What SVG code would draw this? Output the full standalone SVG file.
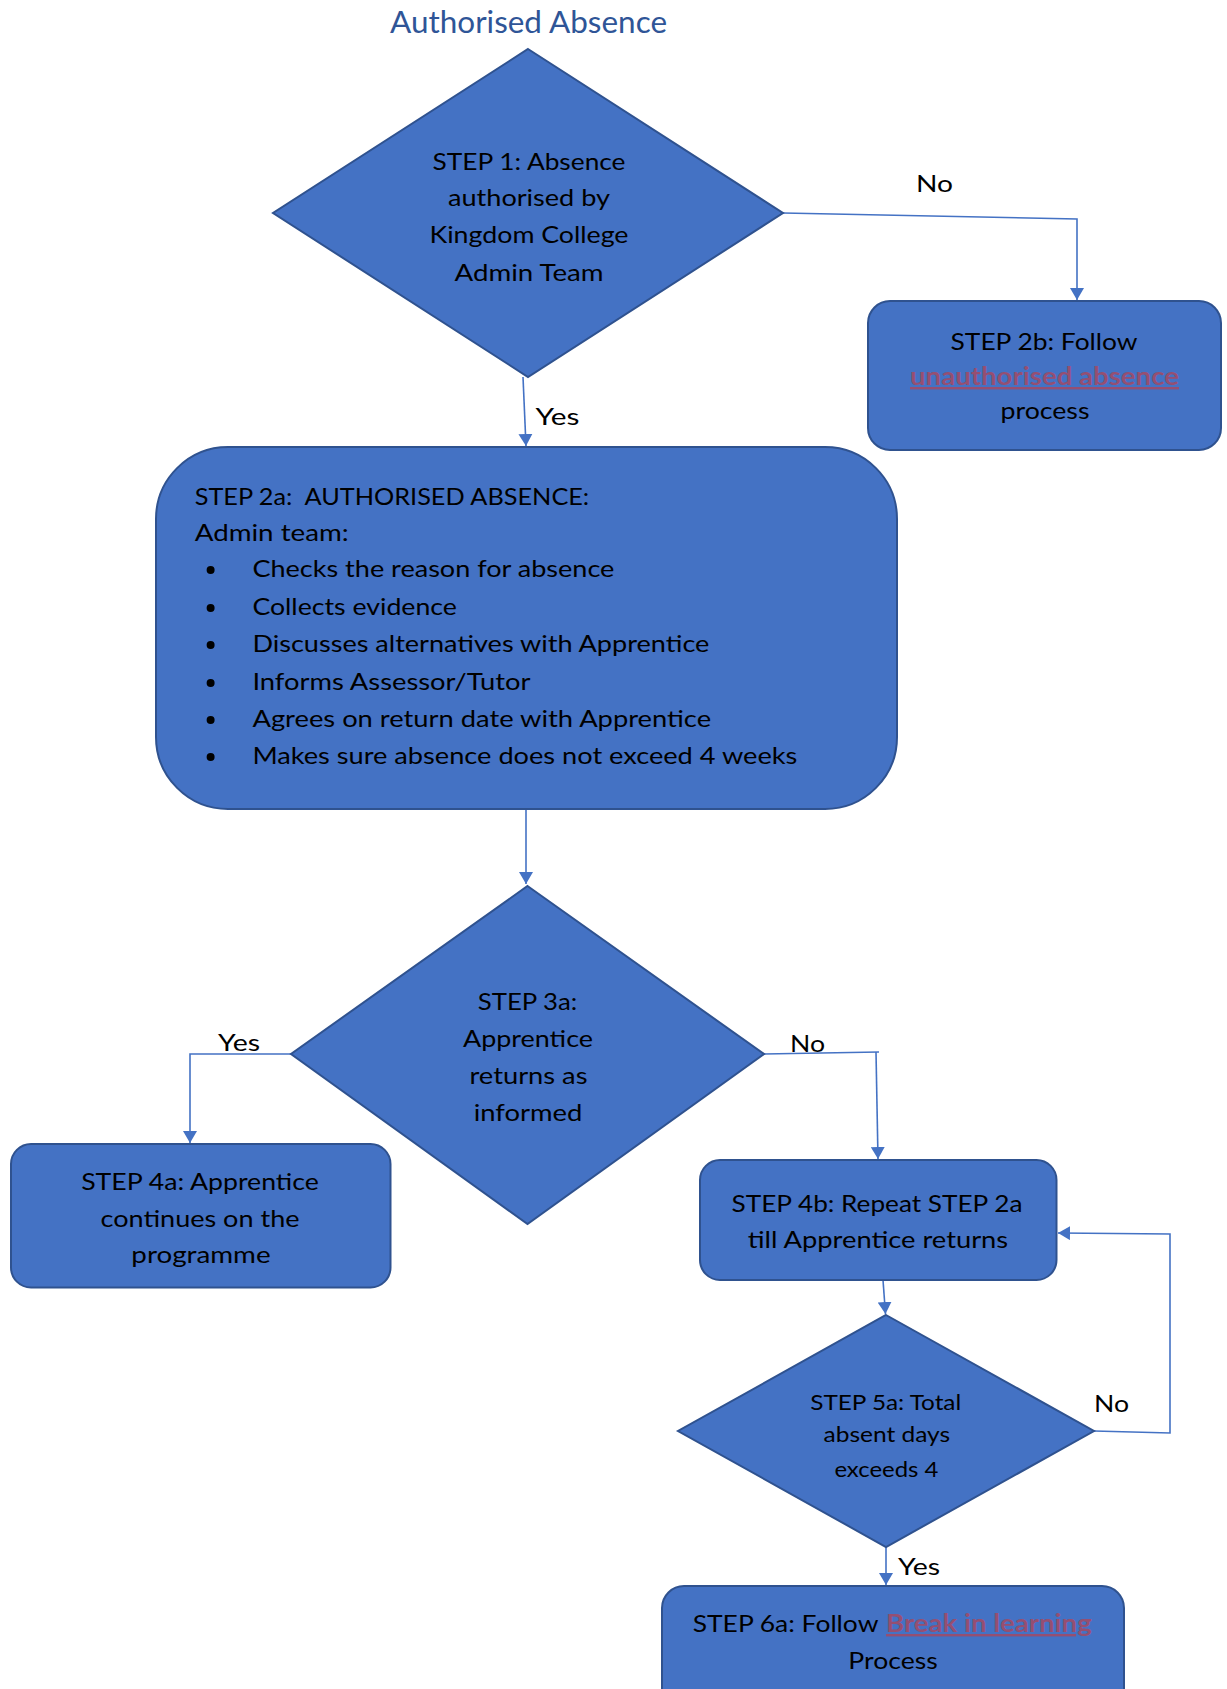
<svg xmlns="http://www.w3.org/2000/svg" width="1227" height="1689" viewBox="0 0 1227 1689">
<defs>
<marker id="arr" markerUnits="userSpaceOnUse" markerWidth="16" markerHeight="14" refX="12" refY="7" orient="auto">
<path d="M0,0 L12,7 L0,14 Z" fill="#4472C4"/>
</marker>
<style>
.shape{fill:#4472C4;stroke:#2F528F;stroke-width:2}
.conn{fill:none;stroke:#4472C4;stroke-width:1.6}
text{font-family:Lato,"Open Sans","Liberation Sans",sans-serif;fill:#000}
.t{font-size:24px;text-anchor:middle}
.l{font-size:24px}
.s{font-size:21px;text-anchor:middle}
.lab{font-size:24px;text-anchor:middle}
.link{fill:#954F72;font-weight:bold;text-decoration:underline}
.title{font-size:30px;fill:#2F5597;text-anchor:middle}
</style>
</defs>
<rect width="1227" height="1689" fill="#fff"/>
<text class="title" x="528.5" y="33" textLength="277" lengthAdjust="spacingAndGlyphs">Authorised Absence</text>

<g id="connectors">
<path class="conn" d="M783,213 L1077,219 L1077,300" marker-end="url(#arr)"/>
<path class="conn" d="M523,377 L526,446" marker-end="url(#arr)"/>
<path class="conn" d="M526,809 L526,884" marker-end="url(#arr)"/>
<path class="conn" d="M291,1054 L190,1054 L190,1143" marker-end="url(#arr)"/>
<path class="conn" d="M764,1054 L879,1052"/>
<path class="conn" d="M876,1052 L878,1159" marker-end="url(#arr)"/>
<path class="conn" d="M883,1280 L885.5,1314" marker-end="url(#arr)"/>
<path class="conn" d="M1094,1431 L1170,1433 L1170,1234 L1058,1233" marker-end="url(#arr)"/>
<path class="conn" d="M886,1547 L886,1585" marker-end="url(#arr)"/>
<text class="lab" x="934.5" y="192" textLength="37" lengthAdjust="spacingAndGlyphs">No</text>
<text class="lab" x="557.5" y="425" textLength="44" lengthAdjust="spacingAndGlyphs">Yes</text>
<text class="lab" x="239" y="1051" textLength="42" lengthAdjust="spacingAndGlyphs">Yes</text>
<text class="lab" x="807.5" y="1052" textLength="35" lengthAdjust="spacingAndGlyphs">No</text>
<text class="lab" x="1111.5" y="1412" textLength="35" lengthAdjust="spacingAndGlyphs">No</text>
<text class="lab" x="919" y="1575" textLength="42" lengthAdjust="spacingAndGlyphs">Yes</text>
</g>

<g id="step1">
<polygon class="shape" points="528,49 783,213 528,377 273,213"/>
<text class="t" x="529" y="170" textLength="193" lengthAdjust="spacingAndGlyphs">STEP 1: Absence</text>
<text class="t" x="529" y="206" textLength="162" lengthAdjust="spacingAndGlyphs">authorised by</text>
<text class="t" x="529" y="243" textLength="199" lengthAdjust="spacingAndGlyphs">Kingdom College</text>
<text class="t" x="529" y="281" textLength="149" lengthAdjust="spacingAndGlyphs">Admin Team</text>
</g>

<g id="step2b">
<rect class="shape" x="868" y="301" width="353" height="149" rx="22"/>
<text class="t" x="1044" y="350" textLength="187" lengthAdjust="spacingAndGlyphs">STEP 2b: Follow</text>
<text class="t link" x="1044.5" y="385" textLength="269" lengthAdjust="spacingAndGlyphs">unauthorised absence</text>
<text class="t" x="1045" y="419" textLength="89" lengthAdjust="spacingAndGlyphs">process</text>
</g>

<g id="step2a">
<rect class="shape" x="156" y="447" width="741" height="362" rx="72"/>
<text class="l" x="194.7" y="505" textLength="394.5" lengthAdjust="spacingAndGlyphs" xml:space="preserve">STEP 2a:  AUTHORISED ABSENCE:</text>
<text class="l" x="194.7" y="541" textLength="154" lengthAdjust="spacingAndGlyphs">Admin team:</text>
<g fill="#000">
<circle cx="210.6" cy="570" r="4"/>
<circle cx="210.6" cy="608" r="4"/>
<circle cx="210.6" cy="645" r="4"/>
<circle cx="210.6" cy="683" r="4"/>
<circle cx="210.6" cy="720" r="4"/>
<circle cx="210.6" cy="757" r="4"/>
</g>
<text class="l" x="252.4" y="577.3" textLength="362" lengthAdjust="spacingAndGlyphs">Checks the reason for absence</text>
<text class="l" x="252.4" y="615" textLength="204.5" lengthAdjust="spacingAndGlyphs">Collects evidence</text>
<text class="l" x="252.4" y="652" textLength="457" lengthAdjust="spacingAndGlyphs">Discusses alternatives with Apprentice</text>
<text class="l" x="252.4" y="690" textLength="278" lengthAdjust="spacingAndGlyphs">Informs Assessor/Tutor</text>
<text class="l" x="252.4" y="727" textLength="458.7" lengthAdjust="spacingAndGlyphs">Agrees on return date with Apprentice</text>
<text class="l" x="252.4" y="764" textLength="545" lengthAdjust="spacingAndGlyphs">Makes sure absence does not exceed 4 weeks</text>
</g>

<g id="step3a">
<polygon class="shape" points="527.5,886 764,1054 527.5,1224 291,1054"/>
<text class="t" x="527.5" y="1010" textLength="99.5" lengthAdjust="spacingAndGlyphs">STEP 3a:</text>
<text class="t" x="528" y="1047" textLength="130" lengthAdjust="spacingAndGlyphs">Apprentice</text>
<text class="t" x="528.5" y="1084" textLength="118" lengthAdjust="spacingAndGlyphs">returns as</text>
<text class="t" x="528" y="1121" textLength="108.7" lengthAdjust="spacingAndGlyphs">informed</text>
</g>

<g id="step4a">
<rect class="shape" x="11" y="1144" width="379.5" height="143.5" rx="20"/>
<text class="t" x="200" y="1190" textLength="237.7" lengthAdjust="spacingAndGlyphs">STEP 4a: Apprentice</text>
<text class="t" x="200" y="1227" textLength="199" lengthAdjust="spacingAndGlyphs">continues on the</text>
<text class="t" x="201" y="1263" textLength="139.3" lengthAdjust="spacingAndGlyphs">programme</text>
</g>

<g id="step4b">
<rect class="shape" x="700" y="1160" width="356.5" height="120" rx="20"/>
<text class="t" x="877" y="1212" textLength="291" lengthAdjust="spacingAndGlyphs">STEP 4b: Repeat STEP 2a</text>
<text class="t" x="878" y="1248" textLength="260.4" lengthAdjust="spacingAndGlyphs">till Apprentice returns</text>
</g>

<g id="step5a">
<polygon class="shape" points="886,1315 1094,1431 886,1547 678,1431"/>
<text class="s" x="885.7" y="1409.5" textLength="151" lengthAdjust="spacingAndGlyphs">STEP 5a: Total</text>
<text class="s" x="886.8" y="1442" textLength="126.6" lengthAdjust="spacingAndGlyphs">absent days</text>
<text class="s" x="886.4" y="1476.5" textLength="104" lengthAdjust="spacingAndGlyphs">exceeds 4</text>
</g>

<g id="step6a">
<rect class="shape" x="662" y="1586" width="462" height="130" rx="22"/>
<text class="l" x="692.7" y="1632" textLength="185.7" lengthAdjust="spacingAndGlyphs">STEP 6a: Follow</text>
<text class="l link" x="886" y="1632" textLength="205.7" lengthAdjust="spacingAndGlyphs">Break in learning</text>
<text class="t" x="893" y="1668.5" textLength="89.3" lengthAdjust="spacingAndGlyphs">Process</text>
</g>
</svg>
